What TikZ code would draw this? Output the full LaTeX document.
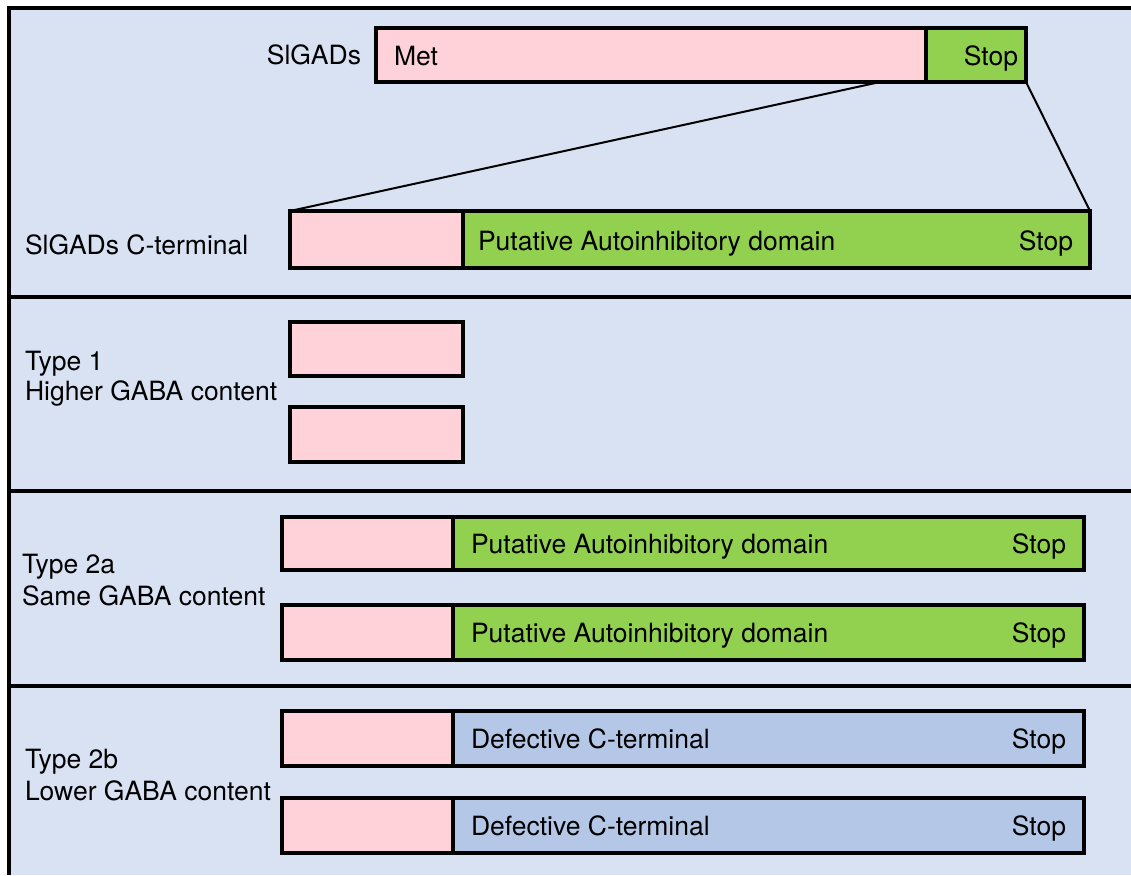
\documentclass[tikz,border=0pt]{standalone}
\usepackage{fontspec}
\setmainfont{TeX Gyre Heros}
\definecolor{bgc}{HTML}{D9E2F3}
\definecolor{pinkc}{HTML}{FFD2DA}
\definecolor{greenc}{HTML}{92D050}
\definecolor{bluec}{HTML}{B4C7E7}
\begin{document}
\begin{tikzpicture}[x=1pt,y=-1pt,
  bx/.style 2 args={draw=black, line width=4pt, inner sep=0pt, outer sep=0pt,
     anchor=north west, minimum width=#1pt, minimum height=#2pt},
  pinkbox/.style={fill=pinkc},
  greenbox/.style={fill=greenc},
  bluebox/.style={fill=bluec},
  lbl/.style={inner sep=0pt, outer sep=0pt, font=\fontsize{26.5}{30}\selectfont},
  frameline/.style={line width=4pt, black},
  zoomline/.style={line width=2pt, black}]
\useasboundingbox (0,0) rectangle (1131,875);
\fill[bgc] (9,8) rectangle (1131,875);
% panel frame
\draw[frameline] (1131,8) -- (9,8) -- (9,875);
\draw[frameline] (9,297) -- (1131,297);
\draw[frameline] (9,491) -- (1131,491);
\draw[frameline] (9,686) -- (1131,686);

% Panel 1: SlGADs
\node[bx={550}{54}, pinkbox] (met) at (376,28) {};
\node[bx={100}{54}, greenbox] (stop) at (926,28) {};
\node[lbl, anchor=base east] (sigads) at (361,64) {SlGADs};
\node[lbl, anchor=base west] (mettxt) at (394,65) {Met};
\node[lbl, anchor=base east] (stoptxt) at (1018,65) {Stop};

\node[bx={173}{57}, pinkbox] (ctp) at (290,211) {};
\node[bx={627}{57}, greenbox] (ctg) at (463,211) {};
\node[lbl, anchor=base west] (ctlbl) at (25,254) {SlGADs C-terminal};
\node[lbl, anchor=base west] (cttxt) at (478,250) {Putative Autoinhibitory domain};
\node[lbl, anchor=base east] (ctstop) at (1073,250) {Stop};

\coordinate (zl) at (880,82);
\draw[zoomline] (zl) -- (ctp.north west);
\draw[zoomline] (stop.south east) -- (ctg.north east);

% Panel 2: Type 1
\node[bx={173}{54}, pinkbox] (t1a) at (290,322) {};
\node[bx={173}{55}, pinkbox] (t1b) at (290,407) {};
\node[lbl, anchor=base west] (t1l1) at (25,370) {Type 1};
\node[lbl, anchor=base west] (t1l2) at (25,400) {Higher GABA content};

% Panel 3: Type 2a
\node[bx={171}{53}, pinkbox] (t2ap1) at (282,517) {};
\node[bx={631}{53}, greenbox] (t2ag1) at (453,517) {};
\node[bx={171}{55}, pinkbox] (t2ap2) at (282,605) {};
\node[bx={631}{55}, greenbox] (t2ag2) at (453,605) {};
\node[lbl, anchor=base west] (t2al1) at (22,573) {Type 2a};
\node[lbl, anchor=base west] (t2al2) at (22,605) {Same GABA content};
\node[lbl, anchor=base west] (t2at1) at (471,553) {Putative Autoinhibitory domain};
\node[lbl, anchor=base east] (t2as1) at (1066,553) {Stop};
\node[lbl, anchor=base west] (t2at2) at (471,642) {Putative Autoinhibitory domain};
\node[lbl, anchor=base east] (t2as2) at (1066,642) {Stop};

% Panel 4: Type 2b
\node[bx={171}{55}, pinkbox] (t2bp1) at (282,711) {};
\node[bx={631}{55}, bluebox] (t2bb1) at (453,711) {};
\node[bx={171}{55}, pinkbox] (t2bp2) at (282,798) {};
\node[bx={631}{55}, bluebox] (t2bb2) at (453,798) {};
\node[lbl, anchor=base west] (t2bl1) at (25,768) {Type 2b};
\node[lbl, anchor=base west] (t2bl2) at (25,800) {Lower GABA content};
\node[lbl, anchor=base west] (t2bt1) at (471,748) {Defective C-terminal};
\node[lbl, anchor=base east] (t2bs1) at (1066,748) {Stop};
\node[lbl, anchor=base west] (t2bt2) at (471,835) {Defective C-terminal};
\node[lbl, anchor=base east] (t2bs2) at (1066,835) {Stop};
\end{tikzpicture}
\end{document}
